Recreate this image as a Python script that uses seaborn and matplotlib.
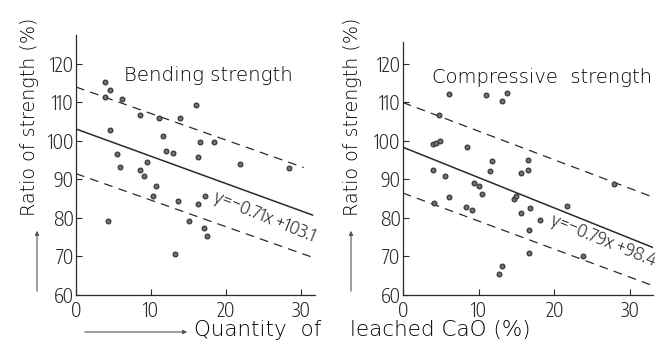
import numpy as np
import matplotlib
matplotlib.use("Agg")
import matplotlib.pyplot as plt
from matplotlib.patches import FancyArrowPatch
import seaborn as sns

# --- DATA ---
# Bending strength panel
bend_x = [3.8, 4.5, 3.9, 6.1, 4.5, 8.5, 11.0, 13.9, 15.9, 11.6, 16.5, 18.4,
          12.0, 12.9, 5.5, 16.2, 5.9, 9.5, 8.5, 9.1, 21.8, 28.3, 10.6, 10.2,
          13.6, 16.2, 17.1, 4.2, 15.1, 17.0, 17.4, 13.2]
bend_y = [115.3, 113.3, 111.5, 111.0, 102.9, 106.8, 105.9, 105.9, 109.2, 101.2, 99.7, 99.7,
          97.4, 96.9, 96.6, 95.7, 93.2, 94.4, 92.4, 91.0, 93.9, 92.9, 88.4, 85.6,
          84.4, 83.5, 85.6, 79.1, 79.2, 77.5, 75.4, 70.7]

# Compressive strength panel
comp_x = [6.1, 11.0, 13.1, 13.8, 4.8, 4.0, 4.45, 4.9, 8.5, 4.0, 11.75, 11.45,
          16.5, 16.5, 15.6, 5.6, 9.35, 10.1, 10.5, 6.1, 14.7, 14.9, 4.1, 8.3,
          9.2, 21.7, 15.6, 16.8, 18.1, 16.6, 16.6, 13.1, 12.75, 23.8, 27.9]
comp_y = [112.2, 111.9, 110.5, 112.4, 106.8, 99.3, 99.6, 99.9, 98.4, 92.4, 94.7, 92.1,
          95.1, 92.4, 91.6, 90.8, 89.1, 88.4, 86.1, 85.4, 85.0, 85.6, 83.9, 82.9,
          82.0, 83.2, 81.3, 82.5, 79.5, 76.9, 71.0, 67.5, 65.4, 70.0, 88.9]

# regression lines: (slope, intercept) and x extent
bend_fit = (-0.71, 103.1)
bend_fit_x = [0, 31.5]
bend_upper = (-0.69, 114.0)
bend_upper_x = [0, 30.3]
bend_lower = (-0.69, 91.5)
bend_lower_x = [0, 31.3]

comp_fit = (-0.79, 98.4)
comp_fit_x = [0, 33.9]
comp_upper = (-0.745, 110.0)
comp_upper_x = [0, 33.7]
comp_lower = (-0.73, 86.5)
comp_lower_x = [0, 33.5]

y_ticks = [60, 70, 80, 90, 100, 110, 120]
x_ticks = [0, 10, 20, 30]

INK = "#2a2a2a"
NARROW = ["Encode Sans Condensed", "DejaVu Sans"]
WIDE = ["DejaVu Sans"]

sns.set_style("ticks")
plt.rcParams["font.family"] = NARROW
plt.rcParams["font.weight"] = 300
plt.rcParams["text.color"] = INK

fig = plt.figure(figsize=(6.66, 3.47), dpi=100)
ax1 = fig.add_axes([76 / 666, 52 / 347, 239 / 666, 260 / 347])
ax2 = fig.add_axes([402.7 / 666, 52 / 347, 250.3 / 666, 253 / 347])


def line_pts(coef, xs):
    xs = np.array(xs, dtype=float)
    return xs, coef[0] * xs + coef[1]


def draw_panel(ax, xs, ys, fit, fit_x, upper, upper_x, lower, lower_x, xmax, ymax):
    sns.scatterplot(x=xs, y=ys, ax=ax, s=12, color="#707070", edgecolor="#303030",
                    linewidth=0.8, zorder=3)
    lx, ly = line_pts(fit, fit_x)
    sns.lineplot(x=lx, y=ly, ax=ax, color=INK, lw=1.1)
    for coef, xr in [(upper, upper_x), (lower, lower_x)]:
        lx, ly = line_pts(coef, xr)
        ax.plot(lx, ly, color=INK, lw=0.9, dashes=(7, 5))
    ax.set_xlim(0, xmax)
    ax.set_ylim(60, ymax)
    ax.set_xticks(x_ticks)
    ax.set_yticks(y_ticks)
    ax.tick_params(direction="in", length=4, width=0.8, colors=INK, labelsize=14, pad=1.5)
    ax.tick_params(axis="x", pad=4.5)
    for side in ["top", "right"]:
        ax.spines[side].set_visible(False)
    for side in ["left", "bottom"]:
        ax.spines[side].set_color(INK)
        ax.spines[side].set_linewidth(0.9)


draw_panel(ax1, bend_x, bend_y, bend_fit, bend_fit_x, bend_upper, bend_upper_x,
           bend_lower, bend_lower_x, 31.8, 127.5)
draw_panel(ax2, comp_x, comp_y, comp_fit, comp_fit_x, comp_upper, comp_upper_x,
           comp_lower, comp_lower_x, 33.0, 125.7)

label_kw = dict(family=WIDE, weight=200, color="black")

ax1.text(6.4, 117, "Bending strength", fontsize=14.2, va="center", ha="left", **label_kw)
ax2.text(3.9, 116.6, "Compressive  strength", fontsize=14, va="center", ha="left", **label_kw)

ax1.text(18.2, 84.3, "y=−0.71x +103.1", fontsize=13.5, rotation=-22,
         rotation_mode="anchor", ha="left", va="baseline")
ax2.text(19.4, 78.3, "y=−0.79x +98.4", fontsize=13.5, rotation=-22,
         rotation_mode="anchor", ha="left", va="baseline")

# y labels with arrows
for xc, ax_arrow in [(30, 37), (353, 351)]:
    fig.text(xc / 666, 1 - 117 / 347, "Ratio of strength (%)", rotation=90,
             fontsize=13.8, ha="center", va="center", **label_kw)
    fig.add_artist(FancyArrowPatch(
        (ax_arrow / 666, 1 - 294 / 347), (ax_arrow / 666, 1 - 228 / 347),
        transform=fig.transFigure, arrowstyle="-|>", mutation_scale=6,
        color="#555555", lw=0.8))

# x label with arrow
fig.add_artist(FancyArrowPatch(
    (82 / 666, 1 - 332 / 347), (190 / 666, 1 - 332 / 347),
    transform=fig.transFigure, arrowstyle="-|>", mutation_scale=6,
    color="#555555", lw=0.8))
fig.text(194 / 666, 1 - 330 / 347, "Quantity  of", fontsize=15.5, ha="left", va="center",
         **label_kw)
fig.text(350 / 666, 1 - 330 / 347, "leached CaO (%)", fontsize=15.5, ha="left", va="center",
         **label_kw)

fig.savefig("out.png", dpi=100)
